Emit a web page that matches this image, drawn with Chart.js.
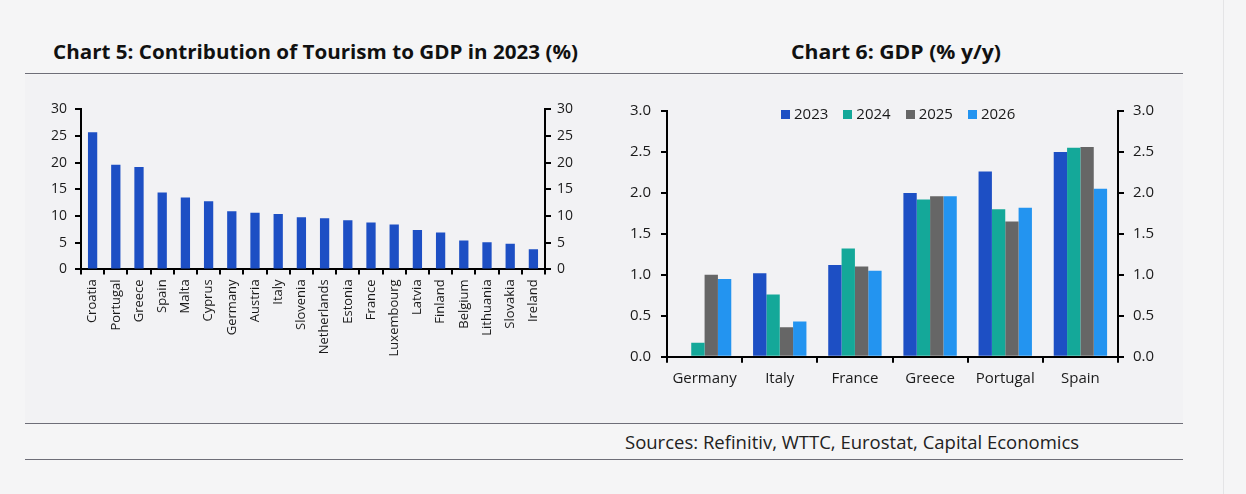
<!DOCTYPE html>
<html>
<head>
<meta charset="utf-8">
<script src="https://cdn.jsdelivr.net/npm/chart.js@4.4.1/dist/chart.umd.min.js"></script>
<style>
  body { margin: 0; width: 1246px; height: 494px; background: #f5f5f6; position: relative; overflow: hidden; font-family: "Open Sans", sans-serif; color: #1a1a1a; }
  .panel { position: absolute; left: 25px; top: 75px; width: 1158px; height: 349px; background: #f2f2f4; }
  .rule { position: absolute; left: 25px; width: 1158px; height: 0; border-top: 1.5px solid #6e6e78; }
  .vline { position: absolute; left: 1223px; top: 0; width: 1px; height: 494px; background: #e4e4e6; }
  .title { position: absolute; top: 38px; font-weight: 700; font-size: 20px; white-space: nowrap; color: #111; transform-origin: 0 0; }
  .src { position: absolute; left: 625px; top: 429px; font-size: 18.5px; white-space: nowrap; color: #222; }
  .box { position: absolute; }
  #legend { position: absolute; left: 781px; top: 103px; font-size: 15px; white-space: nowrap; }
  #legend span.item { display: inline-block; margin-right: 15px; }
  #legend i { display: inline-block; width: 9px; height: 9px; margin-right: 4px; vertical-align: 0px; }
</style>
</head>
<body>
<div class="panel"></div>
<div class="vline"></div>
<div class="title" id="t5" style="left:53px;">Chart 5: Contribution of Tourism to GDP in 2023 (%)</div>
<div class="title" id="t6" style="left:791px;">Chart 6: GDP (% y/y)</div>
<div class="rule" style="top:73px;"></div>
<div class="rule" style="top:423px;"></div>
<div class="rule" style="top:459px;"></div>
<div class="src">Sources: Refinitiv, WTTC, Eurostat, Capital Economics</div>

<div class="box" style="left:0px; top:92.6px;"><canvas id="tourism" width="600" height="300"></canvas></div>
<div class="box" style="left:600px; top:92px;"><canvas id="gdp" width="600" height="300"></canvas></div>
<div id="legend"></div>

<script>
// Chart 5
const tourismCountries = ['Croatia', 'Portugal', 'Greece', 'Spain', 'Malta', 'Cyprus', 'Germany', 'Austria', 'Italy', 'Slovenia',
  'Netherlands', 'Estonia', 'France', 'Luxembourg', 'Latvia', 'Finland', 'Belgium', 'Lithuania', 'Slovakia', 'Ireland'];
const tourismShare = [25.7, 19.6, 19.2, 14.4, 13.5, 12.8, 10.9, 10.6, 10.4, 9.8,
  9.6, 9.2, 8.8, 8.4, 7.4, 6.9, 5.4, 5.1, 4.8, 3.8];
const tourismTicks = [0, 5, 10, 15, 20, 25, 30];

// Chart 6
const gdpCountries = ['Germany', 'Italy', 'France', 'Greece', 'Portugal', 'Spain'];
const gdpYears = ['2023', '2024', '2025', '2026'];
const gdp2023 = [0, 1.02, 1.12, 2.0, 2.26, 2.5];
const gdp2024 = [0.17, 0.76, 1.32, 1.92, 1.8, 2.55];
const gdp2025 = [1.0, 0.36, 1.1, 1.96, 1.65, 2.56];
const gdp2026 = [0.95, 0.43, 1.05, 1.96, 1.82, 2.05];
const gdpTicks = [0, 0.5, 1, 1.5, 2, 2.5, 3];

const blue = '#1d4fc4', teal = '#14a899', grey = '#666666', sky = '#2394f0';
const ink = '#1a1a1a';

function axisY(pos, ticks, w, tickLen, pad, size, fmt) {
    return {
        position: pos, min: 0, max: ticks[ticks.length - 1],
        afterFit: s => { s.width = w; },
        afterBuildTicks: s => { s.ticks = ticks.map(v => ({ value: v })); },
        border: { display: true, color: '#000', width: 2 },
        grid: { drawOnChartArea: false, drawTicks: true, tickLength: tickLen, color: '#000', lineWidth: 2 },
        ticks: { color: ink, font: { family: 'Open Sans', size: size }, padding: pad, callback: fmt }
    };
}

new Chart(document.getElementById('tourism'), {
    type: 'bar',
    data: {
        labels: tourismCountries,
        datasets: [{ data: tourismShare, backgroundColor: blue, barPercentage: 0.4, categoryPercentage: 1 }]
    },
    options: {
        responsive: false, animation: false,
        layout: { padding: { top: 13, left: 0, right: 0, bottom: 0 } },
        plugins: { legend: { display: false }, tooltip: { enabled: false } },
        scales: {
            x: {
                afterFit: s => { s.height = 123.6; },
                border: { display: true, color: '#000', width: 2 },
                grid: { offset: true, drawOnChartArea: false, tickLength: 5, color: '#000', lineWidth: 2 },
                ticks: { autoSkip: false, minRotation: 90, maxRotation: 90, padding: 5, color: ink, font: { family: 'Open Sans', size: 13 } }
            },
            y: axisY('left', tourismTicks, 81, 6, 8, 14, v => v),
            y2: axisY('right', tourismTicks, 55, 6, 6, 14, v => v)
        }
    }
});

const gdpSets = [gdp2023, gdp2024, gdp2025, gdp2026];
const gdpColors = [blue, teal, grey, sky];

new Chart(document.getElementById('gdp'), {
    type: 'bar',
    data: {
        labels: gdpCountries,
        datasets: gdpSets.map((d, i) => ({
            label: gdpYears[i], data: d, backgroundColor: gdpColors[i],
            barPercentage: 1, categoryPercentage: 0.71
        }))
    },
    options: {
        responsive: false, animation: false,
        layout: { padding: { top: 14, left: 0, right: 0, bottom: 0 } },
        plugins: { legend: { display: false }, tooltip: { enabled: false } },
        scales: {
            x: {
                afterFit: s => { s.height = 35.3; },
                border: { display: true, color: '#000', width: 2 },
                grid: { offset: true, drawOnChartArea: false, tickLength: 6, color: '#000', lineWidth: 2 },
                ticks: { autoSkip: false, maxRotation: 0, padding: 7, color: ink, font: { family: 'Open Sans', size: 15 } }
            },
            y: axisY('left', gdpTicks, 67, 6, 10, 15, v => v.toFixed(1)),
            y2: axisY('right', gdpTicks, 82, 6, 9, 15, v => v.toFixed(1))
        }
    }
});

// html legend
const lg = document.getElementById('legend');
gdpYears.forEach((y, i) => {
    const s = document.createElement('span');
    s.className = 'item';
    s.innerHTML = '<i style="background:' + gdpColors[i] + '"></i>' + y;
    lg.appendChild(s);
});

// squeeze bold titles to the condensed width of the original
[['t5', 525], ['t6', 210]].forEach(([id, w]) => {
    const el = document.getElementById(id);
    el.style.transform = 'scaleX(' + (w / el.getBoundingClientRect().width) + ')';
});
</script>
</body>
</html>
